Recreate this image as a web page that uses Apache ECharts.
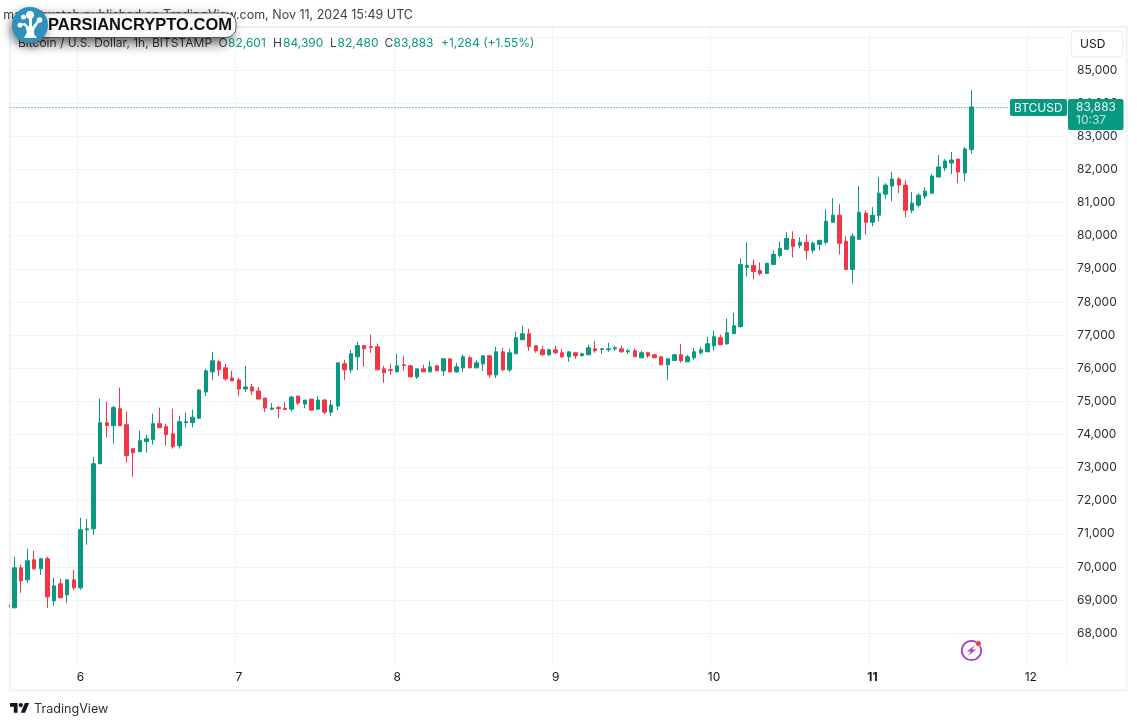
<!DOCTYPE html>
<html>
<head>
<meta charset="utf-8">
<style>
html, body { margin: 0; padding: 0; background: #fff; }
#chart { width: 1137px; height: 726px; }
</style>
<script src="https://cdn.jsdelivr.net/npm/echarts@6/dist/echarts.min.js"></script>
</head>
<body>
<div id="chart"></div>
<script>
// hourly candles, first one starts Nov 5 13:00 UTC
const opens = [68857,68767,69975,69613,70217,69945,70247,68978,69492,69159,69613,69371,71123,71153,73117,74356,74265,74778,74295,73570,73479,73782,73842,74325,74235,74023,73661,74356,74356,74491,
  75281,75889,76192,76010,75706,75645,75372,75433,75311,75098,74764,74815,74784,74764,75159,74916,75068,74764,75038,74673,74855,76132,75949,76344,76679,76648,76648,75980,75950,75889,
  76101,76071,75737,75980,75889,76071,75919,76283,75889,76010,76313,76010,76131,76374,75798,76495,75950,76434,76859,77040,76677,76555,76404,76555,76465,76343,76465,76384,76404,76586,
  76566,76556,76586,76586,76495,76525,76313,76465,76404,76343,76101,76232,76404,76192,76313,76465,76495,76677,76919,76737,77041,77253,79040,79101,78950,78859,79131,79404,79586,79889,
  79707,79798,79556,79737,79798,80404,80616,79828,78980,79889,80677,80404,80616,81253,81495,81707,81525,80768,80919,81192,81283,81768,82040,82192,82313,81889,82601];
const closes = [68797,69975,69582,70187,69945,70247,69099,69431,69069,69613,69371,71123,71153,73117,74356,74265,74809,74265,73359,73449,73812,73872,74325,74204,73993,73630,74386,74386,74521,
  75342,75919,76223,75949,75676,75615,75372,75433,75311,75068,74795,74795,74784,74754,75129,74946,75038,74734,75038,74673,74886,76162,75949,76436,76679,76587,76628,75949,75859,75930,
  76071,76081,75737,75980,75889,76040,75919,76283,75889,76040,76343,76010,76162,76374,75798,76495,75950,76465,76919,77040,76646,76525,76404,76555,76465,76343,76495,76374,76434,76616,
  76525,76586,76586,76616,76495,76525,76343,76465,76374,76313,76101,76283,76404,76222,76343,76495,76556,76737,76949,76707,77070,77283,79131,79101,78919,78859,79162,79434,79616,79919,
  79677,79798,79556,79768,79859,80434,80616,79768,78980,79980,80707,80404,80616,81283,81525,81707,81525,80768,80980,81222,81343,81798,82071,82253,82283,81919,82616,83883];
const lows = [68760,68767,69220,69522,69915,69764,68767,68827,69069,68918,69311,69311,70670,70972,73117,73902,73721,74265,73147,72724,73479,73449,73691,74204,73661,73570,73570,74204,74217,74460,
  75159,75645,75767,75615,75615,75159,75281,75190,75068,74673,74734,74491,74734,74703,74886,74794,74734,74764,74612,74551,74734,75645,75858,75949,76040,76466,75949,75556,75798,75889,
  75919,75737,75677,75889,75889,75919,75768,75859,75859,75889,76010,76010,75919,75707,75707,75919,75889,76434,76859,76525,76465,76374,76374,76434,76313,76192,76283,76343,76404,76465,
  76434,76495,76525,76465,76434,76343,76313,76313,76313,76101,75646,76232,76162,76192,76253,76404,76495,76525,76707,76707,77041,77222,78768,78677,78798,78859,79131,79343,79586,79343,
  79616,79283,79465,79556,79737,80404,79434,78980,78556,79859,80041,80283,80434,81101,81040,81283,80556,80677,80859,81101,81253,81768,81950,81859,81586,81646,82480];
const highs = [68900,70308,70066,70549,70489,70277,70307,69673,69643,69613,69915,71486,71455,73328,75081,74990,74869,75413,74688,73570,74114,73993,74627,74809,74325,74778,74567,74658,74748,75362,
  75980,76496,76253,76132,75919,75706,76071,75524,75433,75098,74947,74855,74977,75159,75159,75038,75068,75159,75068,75038,76162,76253,76557,76800,76679,77013,76739,76071,76131,76434,
  76374,76101,75980,76101,76222,76101,76313,76283,76162,76404,76374,76253,76374,76404,76646,76616,76586,77101,77283,77192,76677,76677,76586,76677,76586,76495,76495,76465,76707,76828,
  76586,76768,76677,76677,76586,76586,76525,76495,76434,76374,76283,76434,76737,76404,76616,76646,76949,77131,77010,77495,77677,79313,79798,79283,79192,79192,79556,79828,80101,80131,
  79949,80040,79828,79859,80798,81131,80949,79980,80071,81495,80768,80858,81768,81586,81919,81768,81677,81313,81283,81465,81859,82434,82313,82525,82313,82677,84390];

const priceTicks = [68000,69000,70000,71000,72000,73000,74000,75000,76000,77000,78000,79000,80000,81000,82000,83000,84000,85000];
const boldDays = ['11'];
const emptySlots = 14; // room on the right of the last candle

const GREEN = '#089981', RED = '#f23645', GRID = '#f1f3f8', INK = '#131722';
const FONT = 'Inter, "Noto Sans", sans-serif';

const categories = [];
for (let i = 0; i < opens.length + emptySlots; i++) {
  const h = 13 + i;
  categories.push((5 + Math.floor(h / 24)) + ' ' + String(h % 24).padStart(2, '0') + ':00');
}
const isDayStart = (idx, name) => name.endsWith(' 00:00');
const candles = opens.map((o, i) => [o, closes[i], lows[i], highs[i]]);
const last = opens.length - 1;
const fmt = (v) => v.toLocaleString('en-US');

// header bits, taken from the last candle: key, value, key x, value x
const headerVals = [
  ['O', opens[last], 218.5, 228],
  ['H', highs[last], 273, 283],
  ['L', lows[last], 330, 337.5],
  ['C', closes[last], 384.5, 393.5]
];

function txt(x, y, text, fill, size, extra) {
  return Object.assign({
    type: 'text', x: x, y: y, z: 20,
    style: { text: text, fill: fill, font: (size || 12) + 'px ' + FONT, textVerticalAlign: 'middle' }
  }, extra || {});
}

const graphics = [
  // frame
  { type: 'rect', z: 1, shape: { x: 10, y: 27, width: 1116.5, height: 663.5 }, style: { fill: 'none', stroke: '#f0f1f7', lineWidth: 2 } },
  // hide what the plot draws outside the frame
  { type: 'rect', z: 10, shape: { x: 0, y: 0, width: 9, height: 726 }, style: { fill: '#fff' } },
  { type: 'rect', z: 10, shape: { x: 0, y: 0, width: 1137, height: 26 }, style: { fill: '#fff' } },

  { type: 'text', z: 20, x: 413, y: 15.5, style: { text: 'marketwatch published on TradingView.com, Nov 11, 2024 15:49 UTC', fill: '#3a3e4a', font: '12.5px ' + FONT, textAlign: 'right', textVerticalAlign: 'middle' } },
  txt(18, 43, 'Bitcoin / U.S. Dollar, 1h, BITSTAMP', '#3a3e4a', 12),
  txt(441, 43, '+1,284 (+1.55%)', GREEN, 12),

  // usd button
  { type: 'rect', z: 15, shape: { x: 1071, y: 31, width: 52, height: 26, r: 4 }, style: { fill: '#fff', stroke: '#e6e8ef', lineWidth: 1 } },
  txt(1080, 44, 'USD', INK, 12),

  // last price tags
  { type: 'rect', z: 15, shape: { x: 1010, y: 99, width: 57, height: 17, r: 2 }, style: { fill: GREEN } },
  txt(1014, 108, 'BTCUSD', '#fff', 12),
  { type: 'rect', z: 15, shape: { x: 1068, y: 99, width: 55.5, height: 31, r: 2 }, style: { fill: GREEN } },
  txt(1076, 107, fmt(closes[last]), '#e8f5f2', 12),
  txt(1076, 120.5, '10:37', '#bfe5dd', 12),

  // bolt icon
  { type: 'circle', z: 15, shape: { cx: 971.5, cy: 650.5, r: 9.7 }, style: { fill: '#fff', stroke: '#a63fbb', lineWidth: 1.8 } },
  { type: 'polygon', z: 16, shape: { points: [[975, 645], [967, 651.5], [971, 651.5], [968, 656], [976, 649.5], [972, 649.5]] }, style: { fill: '#a63fbb' } },
  { type: 'circle', z: 17, shape: { cx: 978.3, cy: 643.5, r: 2.8 }, style: { fill: '#f23645', stroke: '#fff', lineWidth: 0.5 } },

  // tradingview mark
  { type: 'polygon', z: 20, x: 10, y: 700.8, scaleX: 0.54, scaleY: 0.54, shape: { points: [[14, 22], [7, 22], [7, 11], [0, 11], [0, 4], [14, 4]] }, style: { fill: INK } },
  { type: 'polygon', z: 20, x: 10, y: 700.8, scaleX: 0.54, scaleY: 0.54, shape: { points: [[28, 22], [20, 22], [27.5, 4], [35.5, 4]] }, style: { fill: INK } },
  { type: 'circle', z: 20, x: 10, y: 700.8, scaleX: 0.54, scaleY: 0.54, shape: { cx: 20, cy: 8, r: 4 }, style: { fill: INK } },
  txt(34, 709.5, 'TradingView', '#2a2e39', 12.6),

  // parsiancrypto stamp
  { type: 'rect', z: 30, shape: { x: 30, y: 13, width: 206, height: 24.5, r: 10 }, style: { fill: '#fff', stroke: '#3c3c3c', lineWidth: 0.8, shadowBlur: 12, shadowColor: 'rgba(0,0,0,0.65)', shadowOffsetX: -5, shadowOffsetY: 5 } },
  { type: 'text', z: 31, x: 48, y: 25.5, style: { text: 'PARSIANCRYPTO.COM', fill: '#111', font: 'bold 16.5px "Liberation Sans", Arial, sans-serif', textVerticalAlign: 'middle' } },
  { type: 'circle', z: 32, shape: { cx: 30, cy: 25, r: 18 }, style: { fill: '#2e90bd', shadowBlur: 8, shadowColor: 'rgba(0,0,0,0.5)', shadowOffsetX: -2, shadowOffsetY: 4 } },
  { type: 'polygon', z: 33, shape: { points: [[24, 38], [27, 32], [25, 26], [20, 24], [25, 23], [29, 27], [29, 16], [32, 16], [32, 27], [37, 21], [39, 22], [34, 30], [34, 34], [37, 38]] }, style: { fill: '#fff' } },
  { type: 'circle', z: 33, shape: { cx: 30, cy: 15, r: 4 }, style: { fill: '#fff' } },
  { type: 'circle', z: 33, shape: { cx: 23.5, cy: 17, r: 2.5 }, style: { fill: '#fff' } },
  { type: 'circle', z: 33, shape: { cx: 20, cy: 25, r: 2.5 }, style: { fill: '#fff' } },
  { type: 'circle', z: 33, shape: { cx: 39.5, cy: 20, r: 2.8 }, style: { fill: '#fff' } }
];
headerVals.forEach(([k, v, kx, vx]) => {
  graphics.push(txt(kx, 43, k, '#3a3e4a', 12));
  graphics.push(txt(vx, 43, fmt(v), GREEN, 12));
});

const chart = echarts.init(document.getElementById('chart'));
chart.setOption({
  animation: false,
  backgroundColor: '#fff',
  grid: { left: 4.5, right: 69.9, top: 3.7, bottom: 59.6 },
  xAxis: {
    type: 'category',
    data: categories,
    boundaryGap: true,
    axisLine: { show: false },
    axisTick: { show: false },
    splitLine: { show: true, interval: isDayStart, lineStyle: { color: GRID, width: 1 } },
    axisLabel: {
      interval: isDayStart,
      margin: 5,
      color: INK,
      fontSize: 12,
      fontFamily: FONT,
      formatter: (name) => {
        const day = name.split(' ')[0];
        return boldDays.includes(day) ? '{b|' + day + '}' : day;
      },
      rich: { b: { fontWeight: 'bold', fontSize: 12, color: INK, fontFamily: FONT } }
    }
  },
  yAxis: {
    type: 'value',
    position: 'right',
    min: 67000,
    max: 87000,
    interval: 1000,
    axisLine: { show: false },
    axisTick: { show: false },
    splitLine: { show: true, showMinLine: false, showMaxLine: false, lineStyle: { color: GRID, width: 1 } },
    axisLabel: {
      margin: 10,
      color: '#2a2e39',
      fontSize: 12,
      fontFamily: FONT,
      formatter: (v) => priceTicks.includes(v) ? fmt(v) : ''
    }
  },
  series: [{
    type: 'candlestick',
    data: candles,
    barWidth: 4,
    clip: true,
    itemStyle: { color: GREEN, color0: RED, borderColor: GREEN, borderColor0: RED, borderWidth: 1 },
    markLine: {
      silent: true,
      symbol: 'none',
      label: { show: false },
      lineStyle: { color: GREEN, type: [1, 2], width: 1 },
      data: [{ yAxis: closes[last] }]
    }
  }],
  graphic: { elements: graphics }
});
</script>
</body>
</html>
